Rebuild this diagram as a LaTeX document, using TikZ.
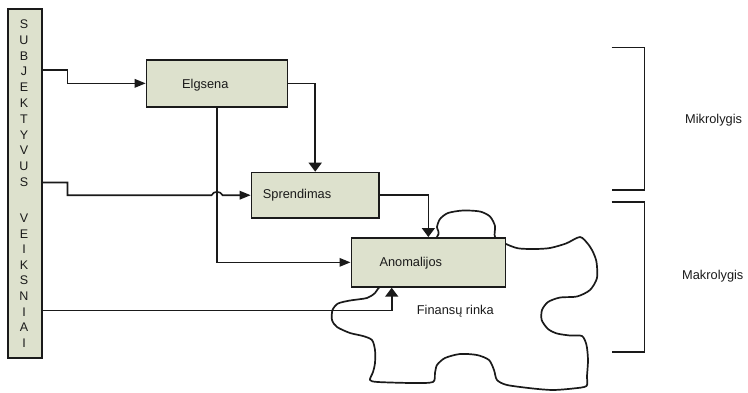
\documentclass[tikz,border=0pt]{standalone}
\usepackage{fontspec}
\setmainfont{Liberation Sans}
\usetikzlibrary{arrows.meta,calc}
\definecolor{boxfill}{HTML}{DDE1CD}
\definecolor{ink}{HTML}{1A1A1A}
\begin{document}
\begin{tikzpicture}[x=1pt,y=-1pt,
  box/.style={draw=ink, fill=boxfill, line width=1.7pt, inner sep=0pt, anchor=north west},
  lbl/.style={font=\fontsize{12.8}{14}\selectfont, text=ink, inner sep=0pt, anchor=base west},
  letter/.style={font=\fontsize{12.5}{14}\selectfont, text=ink, inner sep=0pt, anchor=base},
  conn/.style={draw=ink, line width=1.6pt, line join=miter},
  harrow/.style={conn, -{Triangle[length=11pt,width=8.5pt]}},
  varrow/.style={conn, -{Triangle[length=9pt,width=13pt]}},
  bracket/.style={draw=ink, line width=1.6pt},
  puzzle/.style={draw=ink, line width=1.7pt, line join=round}]
\useasboundingbox (0,0) rectangle (748,392);

% vertical bar of actors' actions
\node[box, minimum width=34pt, minimum height=349pt] (bar) at (7,8) {};
\foreach \ch [count=\i from 0] in {S,U,B,J,E,K,T,Y,V,U,S}
  \node[letter] (top\i) at (24, 28.5+15.8*\i) {\ch};
\foreach \ch [count=\i from 0] in {V,E,I,K,S,N,I,A,I}
  \node[letter] (bot\i) at (24, 222.5+15.6*\i) {\ch};
\coordinate (s1) at (41,70);
\coordinate (s2) at (41,182.5);
\coordinate (s3) at (41,310.5);

% financial market outline
\draw[puzzle] plot[smooth cycle, tension=0.45] coordinates {
  (437,237) (437,227) (440,219) (448,213) (463,210.5) (480,211.5) (490,216.5)
  (495,226) (495,237) (505,243.5) (518,248.3) (535,249) (550,248) (566,243.5)
  (580,237) (588,244) (593,252) (596.5,262) (597,278) (590,290) (577,296.5)
  (560,297.5) (548,302) (542,310) (541.7,320) (548,329) (557,333.5) (570,335.5)
  (582,336) (586.5,345) (588,360) (587,376) (586.5,386) (573,388.5) (553,390)
  (533,388.5) (507,385) (497,380) (494,370) (489,360) (477,355) (460,354)
  (445,358) (437,365) (435,373) (433,382) (413,383) (378,382) (370,380)
  (373,372) (375,363) (375,350) (372,340) (363,336) (350,333) (337,327)
  (332,320) (332.5,310) (338,303.5) (350,300.5) (367,298) (375,293) (380,286.5)
  (405,262)};

% process boxes
\node[box, minimum width=141pt, minimum height=47pt] (elg) at (145.7,59) {};
\node[box, minimum width=127.3pt, minimum height=45.3pt] (spr) at (250.7,171.7) {};
\node[box, minimum width=154pt, minimum height=49pt] (ano) at (350.5,237) {};
\node[lbl] (elgT) at (182,88) {Elgsena};
\node[lbl] (sprT) at (262.7,198.3) {Sprendimas};
\node[lbl] (anoT) at (379.3,266) {Anomalijos};
\node[lbl] (finT) at (416.7,314.5) {Finansų rinka};

% connectors
\draw[harrow] (s1) -- ++(26.5,0) |- (elg);
\draw[varrow] (elg.east) -| (spr.north);
\coordinate (h1) at ($(elg.south |- spr.west)+(-5.5,0)$);
\coordinate (h2) at ($(elg.south |- spr.west)+(5.5,0)$);
\draw[harrow] (s2) -- ++(26.5,0) |- (h1)
  .. controls +(2,-4.5) and +(-2,-4.5) .. (h2) -- (spr.west);
\draw[harrow] (elg.south) |- (ano.west);
\draw[varrow] (spr.east) -| (ano.north);
\draw[varrow] (s3) -| ([xshift=41.2pt]ano.south west);

% levels
\draw[bracket] (611.7,47.3) -- (644.5,47.3) -- (644.5,190) -- (611.7,190);
\draw[bracket] (611.7,202) -- (644.5,202) -- (644.5,351.7) -- (611.7,351.7);
\node[lbl] (mikro) at (685,123.5) {Mikrolygis};
\node[lbl] (makro) at (682,279.5) {Makrolygis};
\end{tikzpicture}
\end{document}
